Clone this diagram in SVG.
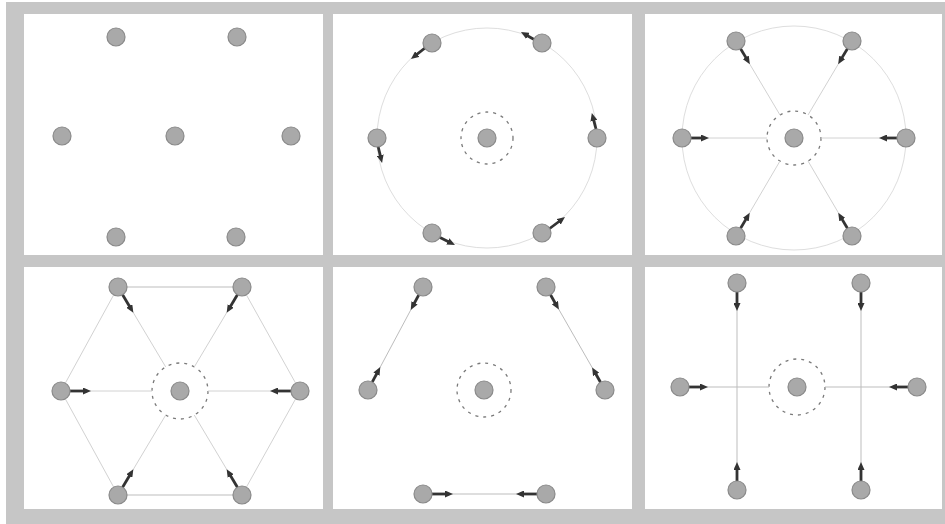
<svg xmlns="http://www.w3.org/2000/svg" width="945" height="524" viewBox="0 0 945 524">
<style>
.frame{fill:#c6c6c6}
.panel{fill:#ffffff}
.node{fill:#a9a9a9;stroke:#8a8a8a;stroke-width:1.2}
.big{fill:none;stroke:#dedede;stroke-width:1}
.dash{fill:none;stroke:#7a7a7a;stroke-width:1.3;stroke-dasharray:3 5}
.link{fill:none;stroke:#d2d2d2;stroke-width:1}
.link2{fill:none;stroke:#bdbdbd;stroke-width:1}
.arr{fill:none;stroke:#333333;stroke-width:2.8;marker-end:url(#ah)}
</style>
<defs>
<marker id="ah" markerUnits="userSpaceOnUse" markerWidth="8" markerHeight="7" viewBox="0 0 8 7" refX="3" refY="3.5" orient="auto">
<path d="M0,0 L8,3.5 L0,7 Z" fill="#333333"/>
</marker>
</defs>
<rect x="0" y="0" width="945" height="524" fill="#ffffff"/>
<rect class="frame" x="6" y="2" width="939" height="522"/>
<g id="panels">
<rect class="panel" x="24" y="14" width="299" height="241"/>
<rect class="panel" x="333" y="14" width="299" height="241"/>
<rect class="panel" x="645" y="14" width="297" height="241"/>
<rect class="panel" x="24" y="267" width="299" height="242"/>
<rect class="panel" x="333" y="267" width="299" height="242"/>
<rect class="panel" x="645" y="267" width="297" height="242"/>
</g>
<g id="connectors">
<!-- panel 2 -->
<circle class="big" cx="487" cy="138" r="110"/>
<circle class="dash" cx="487" cy="138" r="26"/>
<!-- panel 3 -->
<circle class="big" cx="794" cy="138" r="112"/>
<circle class="dash" cx="794" cy="138" r="27"/>
<line class="link" x1="682" y1="138" x2="767" y2="138"/>
<line class="link" x1="906" y1="138" x2="821" y2="138"/>
<line class="link" x1="736" y1="41" x2="780" y2="115"/>
<line class="link" x1="852" y1="41" x2="808" y2="115"/>
<line class="link" x1="736" y1="236" x2="780" y2="161"/>
<line class="link" x1="852" y1="236" x2="808" y2="161"/>
<!-- panel 4 -->
<path class="link" d="M242,287 L300,391 L242,495 M118,495 L61,391 L118,287"/>
<path class="link2" d="M118,287 L242,287 M118,495 L242,495"/>
<circle class="dash" cx="180" cy="391" r="28"/>
<line class="link" x1="61" y1="391" x2="152" y2="391"/>
<line class="link" x1="300" y1="391" x2="208" y2="391"/>
<line class="link" x1="118" y1="287" x2="165.7" y2="366.9"/>
<line class="link" x1="242" y1="287" x2="194.3" y2="366.9"/>
<line class="link" x1="118" y1="495" x2="165.7" y2="415.1"/>
<line class="link" x1="242" y1="495" x2="194.3" y2="415.1"/>
<!-- panel 5 -->
<circle class="dash" cx="484" cy="390" r="27"/>
<line class="link2" x1="423" y1="287" x2="368" y2="390"/>
<line class="link2" x1="546" y1="287" x2="605" y2="390"/>
<line class="link2" x1="423" y1="494" x2="546" y2="494"/>
<!-- panel 6 -->
<circle class="dash" cx="797" cy="387" r="28"/>
<line class="link2" x1="737" y1="283" x2="737" y2="490"/>
<line class="link2" x1="861" y1="283" x2="861" y2="490"/>
<line class="link2" x1="680" y1="387" x2="769" y2="387"/>
<line class="link2" x1="825" y1="387" x2="917" y2="387"/>
<!-- arrows panel 2 -->
<path class="arr" d="M596,129 L593.1,117.9"/>
<path class="arr" d="M535,40 L525.3,34.5"/>
<path class="arr" d="M425,48 L414.9,55.9"/>
<path class="arr" d="M378,146 L380.9,158.1"/>
<path class="arr" d="M439,237 L450.5,242.8"/>
<path class="arr" d="M549,229 L561,220"/>
<!-- arrows panel 3 -->
<path class="arr" d="M691,138 L704,138"/>
<path class="arr" d="M897,138 L884,138"/>
<path class="arr" d="M740.6,48.7 L747.3,59.9"/>
<path class="arr" d="M847.4,48.7 L840.7,59.9"/>
<path class="arr" d="M740.6,228.3 L747.2,217.1"/>
<path class="arr" d="M847.4,228.3 L840.8,217.1"/>
<!-- arrows panel 4 -->
<path class="arr" d="M70,391 L86,391"/>
<path class="arr" d="M291,391 L275,391"/>
<path class="arr" d="M122.6,294.7 L130.8,308.5"/>
<path class="arr" d="M237.4,294.7 L229.2,308.5"/>
<path class="arr" d="M122.6,487.3 L130.8,473.5"/>
<path class="arr" d="M237.4,487.3 L229.2,473.5"/>
<!-- arrows panel 5 -->
<path class="arr" d="M418.8,294.9 L413.1,305.5"/>
<path class="arr" d="M372.2,382.1 L377.9,371.5"/>
<path class="arr" d="M550.5,294.8 L556.4,305.2"/>
<path class="arr" d="M600.5,382.2 L594.6,371.8"/>
<path class="arr" d="M432,494 L448,494"/>
<path class="arr" d="M537,494 L521,494"/>
<!-- arrows panel 6 -->
<path class="arr" d="M737,292 L737,306"/>
<path class="arr" d="M861,292 L861,306"/>
<path class="arr" d="M737,481 L737,467"/>
<path class="arr" d="M861,481 L861,467"/>
<path class="arr" d="M689,387 L703,387"/>
<path class="arr" d="M908,387 L894,387"/>
</g>
<g id="p1-nodes">
<g id="p1-n1"><circle class="node" cx="116" cy="37" r="9"/></g>
<g id="p1-n2"><circle class="node" cx="237" cy="37" r="9"/></g>
<g id="p1-n3"><circle class="node" cx="62" cy="136" r="9"/></g>
<g id="p1-n4"><circle class="node" cx="175" cy="136" r="9"/></g>
<g id="p1-n5"><circle class="node" cx="291" cy="136" r="9"/></g>
<g id="p1-n6"><circle class="node" cx="116" cy="237" r="9"/></g>
<g id="p1-n7"><circle class="node" cx="236" cy="237" r="9"/></g>
</g>
<g id="p2-nodes">
<g id="p2-c"><circle class="node" cx="487" cy="138" r="9"/></g>
<g id="p2-n1"><circle class="node" cx="597" cy="138" r="9"/></g>
<g id="p2-n2"><circle class="node" cx="542" cy="43" r="9"/></g>
<g id="p2-n3"><circle class="node" cx="432" cy="43" r="9"/></g>
<g id="p2-n4"><circle class="node" cx="377" cy="138" r="9"/></g>
<g id="p2-n5"><circle class="node" cx="432" cy="233" r="9"/></g>
<g id="p2-n6"><circle class="node" cx="542" cy="233" r="9"/></g>
</g>
<g id="p3-nodes">
<g id="p3-c"><circle class="node" cx="794" cy="138" r="9"/></g>
<g id="p3-n1"><circle class="node" cx="906" cy="138" r="9"/></g>
<g id="p3-n2"><circle class="node" cx="852" cy="41" r="9"/></g>
<g id="p3-n3"><circle class="node" cx="736" cy="41" r="9"/></g>
<g id="p3-n4"><circle class="node" cx="682" cy="138" r="9"/></g>
<g id="p3-n5"><circle class="node" cx="736" cy="236" r="9"/></g>
<g id="p3-n6"><circle class="node" cx="852" cy="236" r="9"/></g>
</g>
<g id="p4-nodes">
<g id="p4-c"><circle class="node" cx="180" cy="391" r="9"/></g>
<g id="p4-n1"><circle class="node" cx="300" cy="391" r="9"/></g>
<g id="p4-n2"><circle class="node" cx="242" cy="287" r="9"/></g>
<g id="p4-n3"><circle class="node" cx="118" cy="287" r="9"/></g>
<g id="p4-n4"><circle class="node" cx="61" cy="391" r="9"/></g>
<g id="p4-n5"><circle class="node" cx="118" cy="495" r="9"/></g>
<g id="p4-n6"><circle class="node" cx="242" cy="495" r="9"/></g>
</g>
<g id="p5-nodes">
<g id="p5-c"><circle class="node" cx="484" cy="390" r="9"/></g>
<g id="p5-n1"><circle class="node" cx="605" cy="390" r="9"/></g>
<g id="p5-n2"><circle class="node" cx="546" cy="287" r="9"/></g>
<g id="p5-n3"><circle class="node" cx="423" cy="287" r="9"/></g>
<g id="p5-n4"><circle class="node" cx="368" cy="390" r="9"/></g>
<g id="p5-n5"><circle class="node" cx="423" cy="494" r="9"/></g>
<g id="p5-n6"><circle class="node" cx="546" cy="494" r="9"/></g>
</g>
<g id="p6-nodes">
<g id="p6-c"><circle class="node" cx="797" cy="387" r="9"/></g>
<g id="p6-n1"><circle class="node" cx="917" cy="387" r="9"/></g>
<g id="p6-n2"><circle class="node" cx="861" cy="283" r="9"/></g>
<g id="p6-n3"><circle class="node" cx="737" cy="283" r="9"/></g>
<g id="p6-n4"><circle class="node" cx="680" cy="387" r="9"/></g>
<g id="p6-n5"><circle class="node" cx="737" cy="490" r="9"/></g>
<g id="p6-n6"><circle class="node" cx="861" cy="490" r="9"/></g>
</g>
</svg>
